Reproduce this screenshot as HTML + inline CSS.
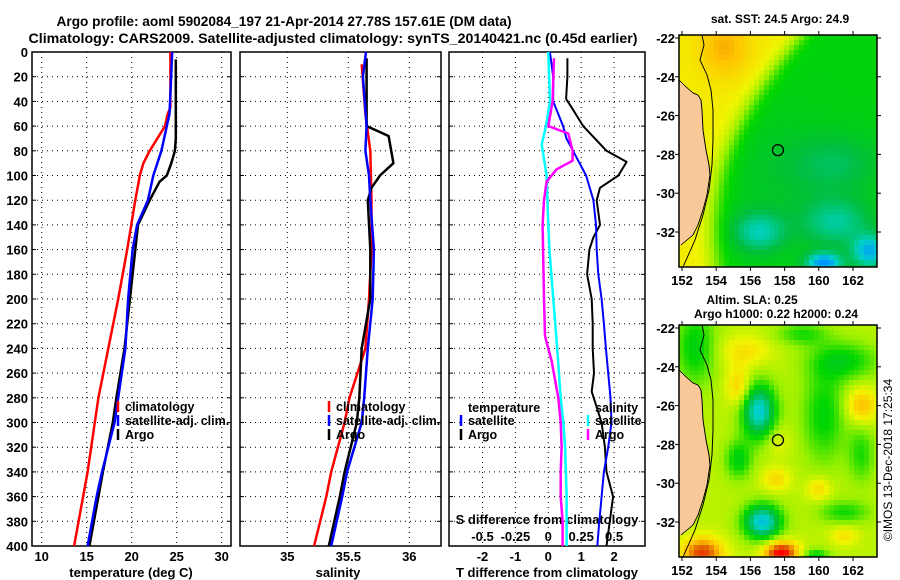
<!DOCTYPE html>
<html><head><meta charset="utf-8">
<style>
html,body{margin:0;padding:0;background:#fff;width:900px;height:580px;overflow:hidden}
#wrap{position:relative;width:900px;height:580px}
canvas{position:absolute;image-rendering:pixelated}
svg{position:absolute;left:0;top:0}
text{font-family:"Liberation Sans",Arial,sans-serif;font-weight:bold;fill:#000}
</style></head>
<body>
<div id="wrap">
<canvas id="sstmap" width="198" height="232" style="left:679px;top:35px"></canvas>
<canvas id="slamap" width="198" height="232" style="left:679px;top:325px"></canvas>
<svg id="fig" width="900" height="580" viewBox="0 0 900 580">
<text x="284" y="26" text-anchor="middle" font-size="14" textLength="455" lengthAdjust="spacingAndGlyphs">Argo profile: aoml 5902084_197 21-Apr-2014 27.78S 157.61E (DM data)</text>
<text x="333" y="43" text-anchor="middle" font-size="14" textLength="609" lengthAdjust="spacingAndGlyphs">Climatology: CARS2009. Satellite-adjusted climatology: synTS_20140421.nc (0.45d earlier)</text>
<text x="131" y="577" text-anchor="middle" font-size="13">temperature (deg C)</text>
<text x="338" y="577" text-anchor="middle" font-size="13">salinity</text>
<text x="547" y="577" text-anchor="middle" font-size="13">T difference from climatology</text>
<text x="547" y="524" text-anchor="middle" font-size="13">S difference from climatology</text>
<text x="780" y="23" text-anchor="middle" font-size="12">sat. SST: 24.5 Argo: 24.9</text>
<text x="752" y="304" text-anchor="middle" font-size="12">Altim. SLA: 0.25</text>
<text x="776" y="318" text-anchor="middle" font-size="12">Argo h1000: 0.22 h2000: 0.24</text>
<text x="892" y="460" text-anchor="middle" font-size="12" transform="rotate(-90 892 460)" style="font-weight:normal">©IMOS 13-Dec-2018 17:25:34</text>
<g id="g"></g>
</svg>
</div>
<script>
// ---- profile data (depth in dbar) ----
const tClimDepth = [0,45,50,60,80,90,100,120,160,200,240,280,300,340,360,380,400];
const tClimVal   = [24.3,24.3,24.0,23.7,22.0,21.3,20.9,20.4,19.5,18.5,17.4,16.3,15.9,15.1,14.6,14.1,13.6];
const tSatDepth  = [0,50,60,80,100,120,140,160,200,240,280,300,340,360,380,400];
const tSatVal    = [24.5,24.2,23.9,23.3,22.4,21.8,20.6,20.1,19.6,19.3,18.5,18.1,16.7,16.1,15.6,15.1];
const tArgoDepth = [6,70,80,90,100,105,120,140,200,240,280,300,340,360,380,400];
const tArgoVal   = [24.9,24.9,24.8,24.4,23.9,23.1,22.0,20.7,19.8,19.2,18.3,17.9,16.8,16.3,15.8,15.3];

const sClimDepth = [10,50,80,120,160,200,240,280,300,340,360,400];
const sClimVal   = [35.61,35.64,35.68,35.69,35.69,35.67,35.64,35.51,35.47,35.36,35.32,35.22];
const sSatDepth  = [0,20,60,80,100,120,160,200,240,280,300,340,360,400];
const sSatVal    = [35.645,35.62,35.65,35.64,35.67,35.68,35.71,35.70,35.66,35.63,35.61,35.49,35.45,35.36];
const sArgoDepth = [5,60,68,90,100,110,120,160,200,240,280,300,340,360,400];
const sArgoVal   = [35.65,35.65,35.83,35.87,35.76,35.69,35.66,35.68,35.68,35.61,35.59,35.57,35.47,35.43,35.34];

const dtSatDepth  = [0,20,40,60,70,80,100,120,140,160,180,200,220,240,260,280,300,320,340,360,380,400];
const dtSatVal    = [0.05,0.15,0.15,0.45,0.55,0.75,1.15,1.37,1.45,1.47,1.52,1.62,1.69,1.75,1.82,1.89,1.92,1.82,1.69,1.62,1.55,1.49];
const dtArgoDepth = [5,20,38,45,60,80,89,100,110,120,140,150,160,180,200,220,240,260,275,300,320,340,360,380,400];
const dtArgoVal   = [0.58,0.58,0.54,0.71,1.06,1.77,2.38,2.13,1.57,1.47,1.57,1.37,1.25,1.18,1.32,1.35,1.35,1.39,1.32,1.62,1.72,1.77,1.97,1.87,1.77];
const dsSatDepth  = [0,40,60,75,100,140,160,200,240,280,300,320,340,360,400];
const dsSatVal    = [0,0.013,-0.018,-0.05,-0.013,0,0.008,0.038,0.068,0.094,0.114,0.128,0.134,0.139,0.139];
const dsArgoDepth = [5,40,60,66,80,88,95,105,120,140,200,230,250,280,300,320,340,360,380,400];
const dsArgoVal   = [0.043,0.033,0,0.152,0.185,0.185,0.063,-0.013,-0.033,-0.043,-0.033,-0.025,0.025,0.076,0.094,0.101,0.094,0.094,0.109,0.109];

const depthTicks = [0,20,40,60,80,100,120,140,160,180,200,220,240,260,280,300,320,340,360,380,400];
const tempTicks = [10,15,20,25,30];
const salTicks = [35,35.5,36];
const dtTicks = [-2,-1,0,1,2];
const dsTicks = [-0.5,-0.25,0,0.25,0.5];
const lonTicks = [152,154,156,158,160,162];
const latTicks = [-22,-24,-26,-28,-30,-32];

const NS='http://www.w3.org/2000/svg';
const G=document.getElementById('g');
function mk(tag,attrs){const e=document.createElementNS(NS,tag);for(const k in attrs)e.setAttribute(k,attrs[k]);G.appendChild(e);return e;}

const Y0=52, Y1=546;
const yD = d => Y0 + d*(Y1-Y0)/400;
const xT = v => 41.7 + (v-10)*9;
const xS = v => 287.3 + (v-35)*122;
const xDT = v => 548.3 + v*32.9;
const xDS = v => 548.3 + v*131.6;

const panels=[
 {name:'temperature-panel',x0:32,x1:231,ticks:tempTicks,fx:xT},
 {name:'salinity-panel',x0:240,x1:441,ticks:salTicks,fx:xS},
 {name:'difference-panel',x0:449,x1:645,ticks:dtTicks,fx:xDT}
];
panels.forEach((p,pi)=>{
  depthTicks.forEach(d=>{
    if(d>0&&d<400){
      const gl=mk('line',{x1:p.x0,x2:p.x1,y1:yD(d),y2:yD(d),stroke:'#000','stroke-width':1,'stroke-dasharray':'1 4'});
      
      
    }
    [[p.x0,p.x0+4],[p.x1-4,p.x1]].forEach(a=>{
      const t=mk('line',{x1:a[0],x2:a[1],y1:yD(d),y2:yD(d),stroke:'#000','stroke-width':1});
      
      
    });
    if(pi===0){
      const lt=mk('text',{x:28,y:yD(d)+5,'text-anchor':'end','font-size':13});
      lt.textContent=d;
      
      
    }
  });
  p.ticks.forEach(v=>{
    const x=p.fx(v);
    const gl=mk('line',{x1:x,x2:x,y1:Y0,y2:Y1,stroke:'#000','stroke-width':1,'stroke-dasharray':'1 4'});
    
    
    const lt=mk('text',{x:x,y:561,'text-anchor':'middle','font-size':13});
    lt.textContent=String(v);
    
    
  });
  const fr=mk('rect',{x:p.x0,y:Y0,width:p.x1-p.x0,height:Y1-Y0,fill:'none',stroke:'#000','stroke-width':1.5});
  
  
});
dsTicks.forEach(v=>{
  const lt=mk('text',{x:xDS(v),y:541,'text-anchor':'middle','font-size':13});
  lt.textContent=v;
  
  
});

function series(depths,vals,fx,color,w,name){
  const pts=depths.map((d,i)=>fx(vals[i]).toFixed(1)+','+yD(d).toFixed(1)).join(' ');
  const el=mk('polyline',{points:pts,fill:'none',stroke:color,'stroke-width':w,'stroke-linejoin':'round'});
  
  
}
series(tClimDepth,tClimVal,xT,'#ff0000',2.5,'temperature-climatology-line');
series(tArgoDepth,tArgoVal,xT,'#000',2.5,'temperature-argo-line');
series(tSatDepth,tSatVal,xT,'#0000ff',2.5,'temperature-satellite-line');
series(sClimDepth,sClimVal,xS,'#ff0000',2.5,'salinity-climatology-line');
series(sArgoDepth,sArgoVal,xS,'#000',2.5,'salinity-argo-line');
series(sSatDepth,sSatVal,xS,'#0000ff',2.5,'salinity-satellite-line');
series(dtArgoDepth,dtArgoVal,xDT,'#000',2,'t-diff-argo-line');
series(dtSatDepth,dtSatVal,xDT,'#0000ff',2,'t-diff-satellite-line');
series(dsSatDepth,dsSatVal,xDS,'#00ffff',2.5,'s-diff-satellite-line');
series(dsArgoDepth,dsArgoVal,xDS,'#ff00ff',2.5,'s-diff-argo-line');

function legend(x,y,color,label,name){
  if(color){
    const m=mk('line',{x1:x,x2:x,y1:y-6,y2:y+5,stroke:color,'stroke-width':2.5});
    
    
  }
  const t=mk('text',{x:x+7,y:y+4,'font-size':12.5});
  t.textContent=label;
  
  
}
legend(118,407,'#ff0000','climatology','legend-climatology');
legend(118,421,'#0000ff','satellite-adj. clim.','legend-satellite-adj');
legend(118,435,'#000','Argo','legend-argo');
legend(329,407,'#ff0000','climatology','legend-s-climatology');
legend(329,421,'#0000ff','satellite-adj. clim.','legend-s-satellite-adj');
legend(329,435,'#000','Argo','legend-s-argo');
legend(461,408,null,'temperature','legend-temperature-header');
legend(461,421,'#0000ff','satellite','legend-t-satellite');
legend(461,435,'#000','Argo','legend-t-argo');
legend(588,408,null,'salinity','legend-salinity-header');
legend(588,421,'#00ffff','satellite','legend-s-satellite');
legend(588,435,'#ff00ff','Argo','legend-s-argo-diff');

// ---- maps ----
const MW=198, MH=232;
const lonX = lon => 682 + (lon-152)*17.1;
const latY = lat => 38 + (-22-lat)*19.4;
const stops=[[0,[0,48,255]],[0.18,[0,150,255]],[0.3,[0,210,200]],[0.42,[0,190,60]],[0.5,[0,215,0]],[0.6,[150,240,0]],[0.7,[240,245,0]],[0.8,[255,195,0]],[0.9,[225,100,0]],[1,[255,0,0]]];
function cmap(v){v=Math.max(0,Math.min(1,v));for(let i=1;i<stops.length;i++){if(v<=stops[i][0]){const a=stops[i-1],b=stops[i];const t=(v-a[0])/(b[0]-a[0]);return a[1].map((c,k)=>Math.round(c+(b[1][k]-c)*t));}}return stops[stops.length-1][1];}
function blobs(lon,lat,list){let s=0;for(const b of list){const dx=(lon-b[0])/b[2],dy=(lat-b[1])/b[3];s+=b[4]*Math.exp(-(dx*dx+dy*dy));}return s;}
const sstB=[[154.5,-22.5,1.5,1.5,0.1],[156.5,-32,1.5,1,-0.16],[161,-28.5,2.5,1.5,-0.08],[161,-31.5,2,1.2,-0.14],[160.3,-33.6,1,0.5,-0.3],[163,-33,1,0.8,-0.25],[157.5,-29,3,3,-0.03]];
function sst(lon,lat){const lb=153.8+0.05*(lat+32)*(lat+32);return 0.48+0.24/(1+Math.exp(-(lb-lon)/0.4))+blobs(lon,lat,sstB);}
const slaB=[[156.5,-26.3,1.0,1.4,-0.36],[156.7,-32,1.1,0.9,-0.38],[160.3,-26.5,1.3,2.5,-0.15],[161.5,-23.7,2,1,-0.15],[162.5,-28.5,0.8,1.5,-0.12],[159,-22.3,1.5,0.6,-0.12],[155.3,-28.8,0.8,1,-0.16],[161.5,-31.5,1.5,0.6,-0.13],[159.8,-33.8,0.8,0.4,-0.18],[152.8,-23,1.2,2,-0.16],
 [155.3,-25,0.7,1,0.14],[162.5,-26,0.9,0.9,0.17],[157.5,-29.8,0.8,0.6,0.12],[160,-30.3,0.7,0.6,0.12],[157.8,-33.6,1,0.6,0.38],[153.2,-33.6,1.2,0.8,0.3],[155.7,-23.2,1.5,0.8,0.1],[161.5,-32.7,0.8,0.5,0.1],[157.6,-27.8,0.8,0.8,0.06]];
function sla(lon,lat){return 0.64+blobs(lon,lat,slaB);}
const land=[[679,80],[685,86],[693,93],[698,95],[701,100],[702,110],[703,130],[706,150],[709,165],[710,175],[707,195],[703,210],[698,225],[693,235],[681,245],[679,245]];
function drawMap(id,fn){
  const c=document.getElementById(id).getContext('2d');
  const cell=5;
  for(let py=0;py<MH;py+=cell){for(let px=0;px<MW;px+=cell){
    const X=679+px+cell/2, Yp=35+py+cell/2;
    const lon=152+(X-682)/17.1, lat=-22-(Yp-38)/19.4;
    const col=cmap(fn(lon,lat));
    c.fillStyle='rgb('+col.join(',')+')';c.fillRect(px,py,cell,cell);
  }}
  c.fillStyle='#f8c898';c.beginPath();
  land.forEach((p,i)=>{const x=p[0]-679,y=p[1]-35;i?c.lineTo(x,y):c.moveTo(x,y);});
  c.lineTo(0,MH);c.lineTo(0,45);c.closePath();c.fill();
  c.strokeStyle='#000';c.lineWidth=1;c.beginPath();
  land.slice(0,15).forEach((p,i)=>{const x=p[0]-679,y=p[1]-35;i?c.lineTo(x,y):c.moveTo(x,y);});c.stroke();
  c.beginPath();
  [[702,35],[704,45],[700,60],[707,75],[711,90],[713,110],[713,140],[712,165],[709,190],[703,215],[695,240],[683,267]].forEach((p,i)=>{const x=p[0]-679,y=p[1]-35;i?c.lineTo(x,y):c.moveTo(x,y);});c.stroke();
}
drawMap('sstmap',sst);
drawMap('slamap',sla);

[[35,'sst'],[325,'sla']].forEach(m=>{
  const top=m[0], off=top-35;
  const fr=mk('rect',{x:679,y:top,width:198,height:232,fill:'none',stroke:'#000','stroke-width':1.5});
  
  
  const circ=mk('circle',{cx:lonX(157.61),cy:latY(-27.78)+off,r:5.5,fill:'none',stroke:'#000','stroke-width':1.3});
  
  
  latTicks.forEach(lat=>{
    const y=latY(lat)+off;
    const t=mk('line',{x1:675,x2:679,y1:y,y2:y,stroke:'#000'});
    
    
    const t2=mk('line',{x1:877,x2:881,y1:y,y2:y,stroke:'#000'});
    
    
    const l=mk('text',{x:675,y:y+5,'text-anchor':'end','font-size':13});
    l.textContent=lat;
    
    
  });
  lonTicks.forEach(lon=>{
    const x=lonX(lon);
    const t=mk('line',{x1:x,x2:x,y1:top+232,y2:top+236,stroke:'#000'});
    
    
    const t2=mk('line',{x1:x,x2:x,y1:top-4,y2:top,stroke:'#000'});
    
    
    const l=mk('text',{x:x,y:top+250,'text-anchor':'middle','font-size':13});
    l.textContent=lon;
    
    
  });
});
</script>
</body></html>
